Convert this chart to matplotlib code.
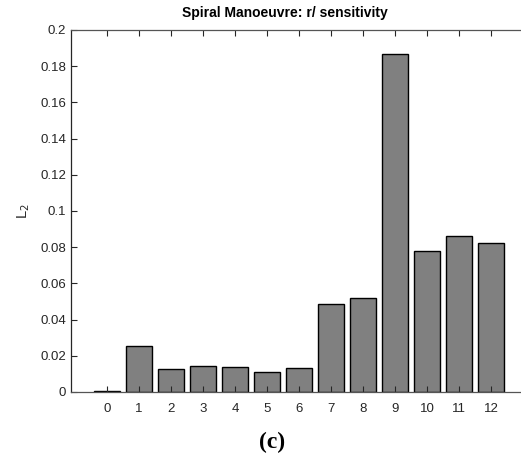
import matplotlib.pyplot as plt
import numpy as np

# Parameter index and L2 sensitivity
params = np.arange(13)
l2_vals = [0.0003, 0.0255, 0.0128, 0.0145, 0.0138, 0.0113, 0.0133,
           0.0485, 0.0518, 0.1866, 0.0781, 0.0862, 0.0821]
y_ticks = [0, 0.02, 0.04, 0.06, 0.08, 0.1, 0.12, 0.14, 0.16, 0.18, 0.2]
y_tick_labels = ['0', '0.02', '0.04', '0.06', '0.08', '0.1', '0.12',
                 '0.14', '0.16', '0.18', '0.2']

plt.rcParams['font.family'] = ['Liberation Sans', 'DejaVu Sans']

fig = plt.figure(figsize=(5.21, 4.68), dpi=100)
ax = fig.add_axes([0.1363, 0.1624, 0.875, 0.7735])

axis_clr = '#262626'
ax.bar(params, l2_vals, width=0.8, color='#808080', edgecolor='black', linewidth=1.0)

ax.set_xlim(-1.12, 13.12)
ax.set_ylim(0, 0.2)
ax.set_xticks(params)
ax.set_yticks(y_ticks)
ax.set_yticklabels(y_tick_labels)
ax.tick_params(axis='both', direction='in', length=4, width=0.8,
               colors=axis_clr, labelsize=9.5, top=True, right=False)
ax.tick_params(axis='x', pad=8)
for side in ['left', 'bottom', 'top']:
    ax.spines[side].set_color('#555555')
    ax.spines[side].set_linewidth(0.9)
ax.spines['left'].set_color(axis_clr)
ax.spines['right'].set_visible(False)

ax.set_ylabel('L$_2$', fontsize=10.5, color=axis_clr, labelpad=6)
fig.text(0.547, 0.972, 'Spiral Manoeuvre: r/ sensitivity', ha='center', va='center',
         fontsize=10, fontweight='bold', color='black')
fig.text(0.522, 0.055, '(c)', ha='center', va='center', fontsize=17,
         fontweight='bold', family=['Liberation Serif', 'DejaVu Serif'])

fig.savefig('out.png', dpi=100)
